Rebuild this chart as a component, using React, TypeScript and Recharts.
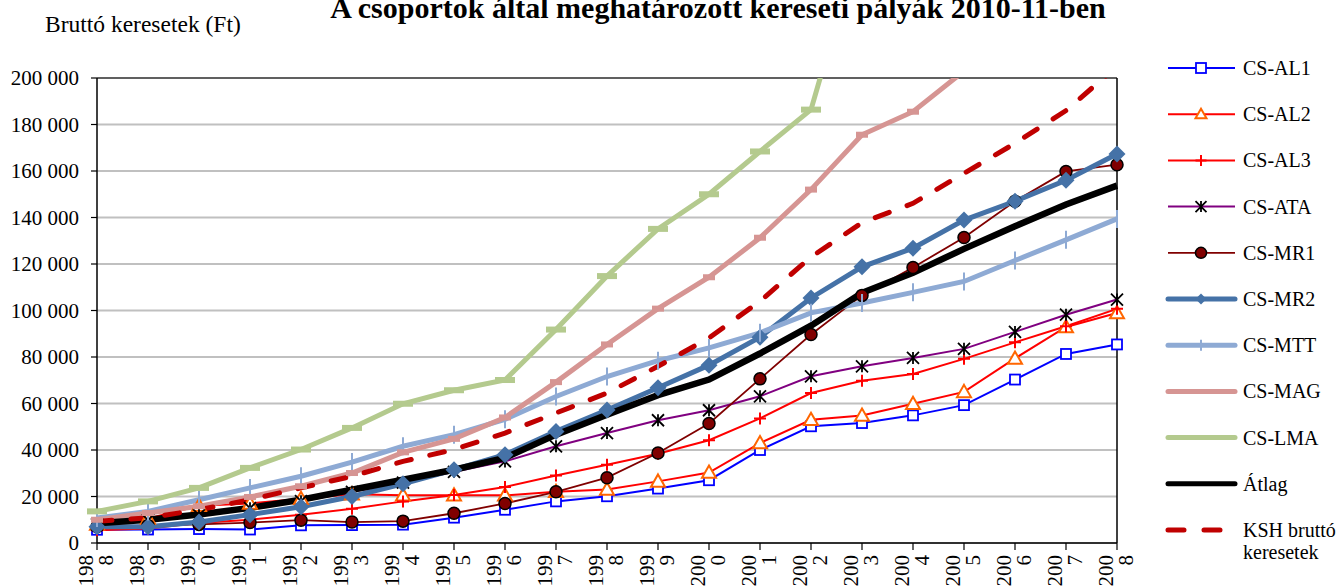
import React from 'react'
import { CartesianGrid, Line, LineChart, ReferenceLine, XAxis, YAxis } from 'recharts'

const YEARS = [
  '1988', '1989', '1990', '1991', '1992', '1993', '1994', '1995', '1996', '1997', '1998',
  '1999', '2000', '2001', '2002', '2003', '2004', '2005', '2006', '2007', '2008',
]

const CS_AL1 = [5700, 5800, 6000, 5800, 7600, 7700, 7900, 10900, 14300, 17900, 20100, 23400, 27000, 40000, 50200, 51600, 54900, 59300, 70300, 81300, 85400]
const CS_AL2 = [8000, 10500, 16000, 17000, 19000, 21000, 20500, 20500, 20500, 22000, 23000, 26500, 30300, 43000, 53000, 54800, 59900, 65000, 79400, 92900, 98900]
const CS_AL3 = [5500, 6200, 8600, 10000, 12200, 14700, 17900, 20600, 24100, 29000, 33700, 38400, 44200, 53600, 64500, 69800, 72700, 79200, 86300, 93200, 100700]
const CS_ATA = [8000, 9800, 12000, 15000, 18000, 22000, 26000, 30600, 35100, 41600, 47300, 52800, 57100, 63100, 71700, 76000, 79600, 83500, 90800, 98200, 104700]
const CS_MR1 = [7000, 7500, 8000, 8800, 9800, 9000, 9400, 12800, 17000, 22000, 28100, 38700, 51400, 70600, 89700, 106500, 118500, 131400, 147000, 159800, 162700]
const CS_MR2 = [7000, 7000, 9000, 12200, 15600, 20000, 25500, 31500, 38000, 48000, 57200, 66800, 76500, 88500, 105400, 118800, 126800, 138900, 147000, 156000, 167300]
const CS_MTT = [10800, 13600, 18600, 23700, 28700, 34800, 41600, 46600, 53200, 63000, 71600, 78400, 83900, 90400, 99000, 103200, 107800, 112500, 121500, 130400, 139400]
const CS_MAG = [10000, 12900, 15800, 19800, 24400, 30100, 39000, 44800, 54000, 69200, 85400, 100800, 114300, 131300, 152000, 175600, 185500, 203000, null, null, null]
const CS_LMA = [13600, 17900, 23700, 32300, 40200, 49500, 59900, 65700, 70100, 91800, 114800, 135100, 150000, 168400, 186400, 262000, null, null, null, null, null]
const ATLAG = [8500, 10000, 12300, 15100, 18600, 22900, 27200, 31500, 36600, 46600, 55200, 63600, 70300, 81500, 93500, 107600, 116200, 126500, 136200, 145600, 153700]
const KSH = [9300, 10800, 14300, 18600, 23700, 28700, 35100, 40200, 47300, 55900, 64500, 76000, 88200, 104000, 123000, 137800, 146100, 159000, 171900, 186000, 205000]

const Y_TICKS = [0, 20000, 40000, 60000, 80000, 100000, 120000, 140000, 160000, 180000, 200000]

const FONT = "'Liberation Serif', 'Times New Roman', serif"

type Marker = 'square' | 'triangle' | 'plus' | 'star' | 'circle' | 'diamond' | 'vtick' | 'dash' | 'none'

type Series = {
  key: string
  name: string
  values: (number | null)[]
  stroke: string
  width: number
  marker: Marker
  markerColor: string
  size: number
  dash?: string
}

const SERIES: Series[] = [
  { key: 'al1', name: 'CS-AL1', values: CS_AL1, stroke: '#0000ff', width: 2, marker: 'square', markerColor: '#0000ff', size: 10 },
  { key: 'al2', name: 'CS-AL2', values: CS_AL2, stroke: '#ff0000', width: 2, marker: 'triangle', markerColor: '#ff6600', size: 14 },
  { key: 'al3', name: 'CS-AL3', values: CS_AL3, stroke: '#ff0000', width: 2, marker: 'plus', markerColor: '#ff0000', size: 12 },
  { key: 'ata', name: 'CS-ATA', values: CS_ATA, stroke: '#800080', width: 2, marker: 'star', markerColor: '#000000', size: 12 },
  { key: 'mr1', name: 'CS-MR1', values: CS_MR1, stroke: '#800000', width: 1.8, marker: 'circle', markerColor: '#800000', size: 12 },
  { key: 'mr2', name: 'CS-MR2', values: CS_MR2, stroke: '#4572a7', width: 5, marker: 'diamond', markerColor: '#4572a7', size: 17 },
  { key: 'mtt', name: 'CS-MTT', values: CS_MTT, stroke: '#8eaad4', width: 5, marker: 'vtick', markerColor: '#8eaad4', size: 18 },
  { key: 'mag', name: 'CS-MAG', values: CS_MAG, stroke: '#d69593', width: 5, marker: 'dash', markerColor: '#d69593', size: 12 },
  { key: 'lma', name: 'CS-LMA', values: CS_LMA, stroke: '#b4ca8e', width: 5, marker: 'dash', markerColor: '#b4ca8e', size: 20 },
  { key: 'atlag', name: 'Átlag', values: ATLAG, stroke: '#000000', width: 6.5, marker: 'none', markerColor: '#000000', size: 0 },
  { key: 'ksh', name: 'KSH bruttó', values: KSH, stroke: '#c00000', width: 5, marker: 'none', markerColor: '#c00000', size: 0, dash: '15 19' },
]

const data = YEARS.map((year, i) => {
  const row: Record<string, string | number | null> = { year }
  SERIES.forEach((s) => {
    row[s.key] = s.values[i]
  })
  return row
})

const fmt = (v: number) => String(v).replace(/\B(?=(\d{3})+(?!\d))/g, ' ')

function drawMarker(m: Marker, cx: number, cy: number, color: string, size: number, key?: string) {
  const h = size / 2
  switch (m) {
    case 'square':
      return <rect key={key} x={cx - h} y={cy - h} width={size} height={size} fill="#fff" stroke={color} strokeWidth={1.8} />
    case 'triangle':
      return (
        <path key={key} d={`M${cx},${cy - h}L${cx + h},${cy + h * 0.75}L${cx - h},${cy + h * 0.75}Z`} fill="#fff" stroke={color} strokeWidth={2} />
      )
    case 'plus':
      return <path key={key} d={`M${cx - h},${cy}H${cx + h}M${cx},${cy - h}V${cy + h}`} stroke={color} strokeWidth={2} fill="none" />
    case 'star':
      return (
        <path
          key={key}
          d={`M${cx - h},${cy - h}L${cx + h},${cy + h}M${cx + h},${cy - h}L${cx - h},${cy + h}M${cx},${cy - h}V${cy + h}`}
          stroke={color}
          strokeWidth={1.8}
          fill="none"
        />
      )
    case 'circle':
      return <circle key={key} cx={cx} cy={cy} r={h} fill={color} stroke="#000" strokeWidth={1.5} />
    case 'diamond':
      return <path key={key} d={`M${cx},${cy - h}L${cx + h},${cy}L${cx},${cy + h}L${cx - h},${cy}Z`} fill={color} />
    case 'vtick':
      return <path key={key} d={`M${cx},${cy - h}V${cy + h}`} stroke={color} strokeWidth={2} fill="none" />
    case 'dash':
      return <rect key={key} x={cx - h} y={cy - 3} width={size} height={6} fill={color} />
    default:
      return <g key={key} />
  }
}

function YearTick(props: any) {
  const { x, y, payload } = props
  const s = String(payload.value)
  return (
    <g transform={`translate(${x},${y})`}>
      <text transform="rotate(-90)" x={-5} y={-4} textAnchor="end" fontFamily={FONT} fontSize={21} fill="#000">
        {s.slice(0, 3)}
      </text>
      <text transform="rotate(-90)" x={-5} y={16} textAnchor="end" fontFamily={FONT} fontSize={21} fill="#000">
        {s.slice(3)}
      </text>
    </g>
  )
}

function LegendBox() {
  return (
    <svg width={1336} height={586} style={{ position: 'absolute', left: 0, top: 0, pointerEvents: 'none' }}>
      {SERIES.map((s, i) => {
        const y = 68 + i * 46.2
        return (
          <g key={s.key}>
            <line
              x1={1168}
              x2={1235}
              y1={y}
              y2={y}
              stroke={s.stroke}
              strokeWidth={Math.min(s.width, 5)}
              strokeDasharray={s.dash ? '16 20' : undefined}
              strokeLinecap={s.width >= 5 ? 'round' : 'butt'}
            />
            {drawMarker(s.marker, 1201, y, s.markerColor, s.marker === 'dash' ? 0 : Math.min(s.size, 11))}
            <text x={1243} y={y + 7} fontFamily={FONT} fontSize={20} fill="#000">
              {s.name}
            </text>
          </g>
        )
      })}
      <text x={1243} y={68 + 10 * 46.2 + 29} fontFamily={FONT} fontSize={20} fill="#000">
        keresetek
      </text>
      <text x={718} y={18} textAnchor="middle" fontFamily={FONT} fontSize={30} fontWeight="bold" fill="#000">
        A csoportok által meghatározott kereseti pályák 2010-11-ben
      </text>
      <text x={45} y={32} fontFamily={FONT} fontSize={23.5} fill="#000">
        Bruttó keresetek (Ft)
      </text>
    </svg>
  )
}

export default function App() {
  return (
    <div style={{ position: 'absolute', left: 0, top: 0, width: 1336, height: 586, background: '#fff' }}>
      <LineChart width={1336} height={586} data={data} margin={{ top: 78, right: 219, left: 0, bottom: 0 }}>
        <CartesianGrid vertical={false} stroke="#c0c0c0" strokeWidth={2} />
        <YAxis
          type="number"
          domain={[0, 200000]}
          ticks={Y_TICKS}
          interval={0}
          allowDataOverflow
          width={97}
          tickSize={6}
          tickMargin={12}
          tickFormatter={fmt}
          tick={{ fontFamily: FONT, fontSize: 21, fill: '#000' }}
          axisLine={{ stroke: '#000', strokeWidth: 1.5 }}
          tickLine={{ stroke: '#000', strokeWidth: 1.2 }}
        />
        <XAxis
          dataKey="year"
          interval={0}
          height={43}
          tickSize={7}
          tickMargin={0}
          padding={{ left: 0, right: 0 }}
          tick={<YearTick />}
          axisLine={{ stroke: '#000', strokeWidth: 1.5 }}
          tickLine={{ stroke: '#000', strokeWidth: 1.2 }}
        />
        <ReferenceLine y={200000} stroke="#404040" strokeWidth={1.5} />
        <ReferenceLine x="2008" stroke="#000" strokeWidth={1.5} />
        {SERIES.map((s) => (
          <Line
            key={s.key}
            dataKey={s.key}
            type="linear"
            stroke={s.stroke}
            strokeWidth={s.width}
            strokeDasharray={s.dash}
            strokeLinecap={s.dash ? 'round' : 'butt'}
            isAnimationActive={false}
            connectNulls={false}
            activeDot={false}
            dot={(p: any) =>
              p.cx == null || p.cy == null || p.value == null
                ? <g key={`${s.key}-${p.index}`} />
                : drawMarker(s.marker, p.cx, p.cy, s.markerColor, s.size, `${s.key}-${p.index}`)
            }
          />
        ))}
      </LineChart>
      <LegendBox />
    </div>
  )
}
